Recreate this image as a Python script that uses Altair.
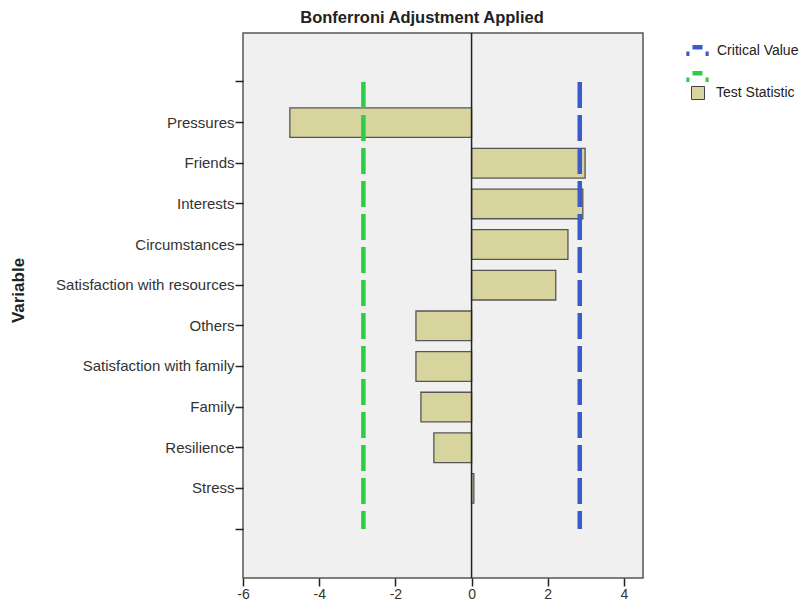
import altair as alt
import pandas as pd

variables = ["Pressures", "Friends", "Interests", "Circumstances",
             "Satisfaction with resources", "Others", "Satisfaction with family",
             "Family", "Resilience", "Stress"]
test_stat = [-4.77, 2.98, 2.92, 2.53, 2.21, -1.46, -1.46, -1.33, -0.99, 0.06]
crit_series = ["Critical Value", " "]
crit_values = [2.84, -2.84]
x_ticks = [-6, -4, -2, 0, 2, 4]

top_blank = "\u2002"
bot_blank = "\u2003"
y_domain = [top_blank] + variables + [bot_blank]

bars_df = pd.DataFrame({"Variable": variables, "value": test_stat,
                        "series": ["Test Statistic"] * len(variables)})
rows = []
for s, v in zip(crit_series, crit_values):
    rows.append({"series": s, "Variable": top_blank, "value": v})
    rows.append({"series": s, "Variable": bot_blank, "value": v})
crit_df = pd.DataFrame(rows)

x_scale = alt.Scale(domain=[-6, 4.5], nice=False, zero=False)
y_scale = alt.Scale(domain=y_domain, paddingInner=0.27, paddingOuter=0.84)

y_axis = alt.Axis(title="Variable", titleFontSize=17, titleFontWeight="bold",
                  titleColor="#222", titleAngle=-90, titleX=-216, titleY=257,
                  titleAlign="center", titleBaseline="bottom",
                  labelFontSize=15, labelColor="#333", labelFont="Liberation Sans",
                  tickSize=8, tickWidth=1.5, tickColor="#222", domain=False, labelPadding=1)
x_axis = alt.Axis(title=None, values=x_ticks, labelFontSize=14, labelColor="#333",
                  labelFont="Liberation Sans", tickSize=8, tickWidth=1.5, tickColor="#222",
                  domain=False, grid=False, labelPadding=1, labelFlush=False,
                  labelExpr="'' + datum.value")

bars = alt.Chart(bars_df).mark_bar(stroke="#555", strokeWidth=1.3).encode(
    y=alt.Y("Variable:N", scale=y_scale, axis=y_axis, sort=y_domain),
    x=alt.X("value:Q", scale=x_scale, axis=x_axis),
    fill=alt.Fill("series:N",
                  scale=alt.Scale(domain=["Test Statistic"], range=["#D8D49E"]),
                  legend=alt.Legend(title=None, orient="none", legendX=448, legendY=53,
                                    symbolType="square", symbolSize=169,
                                    symbolStrokeColor="#444", symbolStrokeWidth=1,
                                    labelOffset=11,
                                    labelFontSize=14, labelFont="Liberation Sans",
                                    labelColor="#222")),
)

arch = "M-1,0.3H-0.72M-0.45,-0.3H0.45M0.72,0.3H1"

lines = alt.Chart(crit_df).mark_line(strokeWidth=4.5, strokeDash=[26, 7]).encode(
    y=alt.Y("Variable:N", scale=y_scale, sort=y_domain),
    x=alt.X("value:Q", scale=x_scale),
    stroke=alt.Stroke("series:N",
                      scale=alt.Scale(domain=crit_series, range=["#3A5BCB", "#2ECC47"]),
                      legend=alt.Legend(title=None, orient="none", legendX=441, legendY=4,
                                        symbolType=arch, symbolSize=500,
                                        symbolStrokeWidth=4.5, rowPadding=-5,
                                        labelOffset=6,
                                        labelFontSize=14, labelFont="Liberation Sans",
                                        labelColor="#222")),
    detail="series:N",
)

zero = alt.Chart(pd.DataFrame({"z": [0]})).mark_rule(color="#222", strokeWidth=1.5).encode(
    x=alt.X("z:Q", scale=x_scale)
)

chart = alt.layer(bars, lines, zero).properties(
    width=400, height=545,
    title=alt.TitleParams("Bonferroni Adjustment Applied", fontSize=16.5, fontWeight="bold",
                          font="Liberation Sans", color="#222", anchor="middle", offset=6,
                          dx=-21),
    autosize=alt.AutoSizeParams(type="none"),
    padding={"left": 235, "top": 25, "right": 156, "bottom": 23},
).configure_view(fill="#F0F0F0", stroke="#555", strokeWidth=1.5).resolve_scale(
    fill="independent", stroke="independent")

chart.save("out.html", embed_options={"renderer": "svg", "actions": False})
